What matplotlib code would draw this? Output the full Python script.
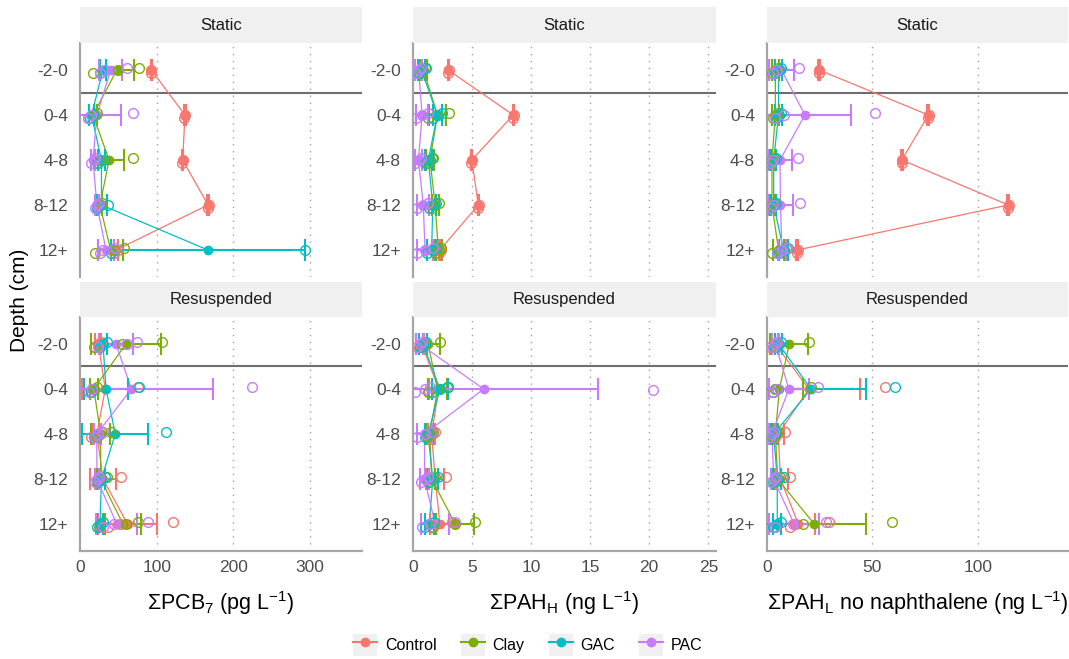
import matplotlib
matplotlib.use("Agg")
import matplotlib.pyplot as plt
import numpy as np
from matplotlib.lines import Line2D
from matplotlib.patches import Rectangle
from matplotlib.legend_handler import HandlerLine2D

plt.rcParams["font.family"] = ["Liberation Sans", "DejaVu Sans"]
plt.rcParams["mathtext.fontset"] = "custom"
plt.rcParams["mathtext.rm"] = "Liberation Sans"
plt.rcParams["mathtext.it"] = "Liberation Sans:italic"
plt.rcParams["mathtext.default"] = "regular"

# ---------------------------------------------------------------- data
depths = ["-2-0", "0-4", "4-8", "8-12", "12+"]
treatments = ["Control", "Clay", "GAC", "PAC"]
conditions = ["Static", "Resuspended"]
colors = {"Control": "#F8766D", "Clay": "#7CAE00", "GAC": "#00BFC4", "PAC": "#C77CFF"}

# Sum of PCB7 (pg/L)
pcb_static_mean = {"Control": [93, 137, 134, 167, 47], "Clay": [48, 17, 38, 26, 40],
                   "GAC": [30, 15, 28, 28, 167], "PAC": [40, 22, 17, 22, 34]}
pcb_static_sd = {"Control": [1, 1, 1, 1, 2], "Clay": [22, 5, 19, 3, 16],
                 "GAC": [4, 3, 4, 7, 126], "PAC": [15, 31, 3, 3, 10]}
pcb_static_reps = {"Control": [[92, 93], [136, 137], [133, 134], [167, 168], [45, 49]],
                   "Clay": [[17, 50, 77], [10, 18, 22], [22, 26, 69], [22, 27, 29], [20, 45, 57]],
                   "GAC": [[26, 33], [13, 17], [24, 31], [22, 37], [40, 293]],
                   "PAC": [[26, 33, 61], [10, 14, 69], [14, 18, 20], [19, 22, 25], [26, 30, 46]]}
pcb_resusp_mean = {"Control": [24, 33, 22, 30, 62], "Clay": [60, 18, 27, 27, 56],
                   "GAC": [30, 34, 46, 28, 26], "PAC": [47, 67, 22, 22, 48]}
pcb_resusp_sd = {"Control": [4, 30, 6, 17, 38], "Clay": [46, 5, 12, 6, 24],
                 "GAC": [5, 29, 43, 5, 4], "PAC": [22, 106, 4, 3, 27]}
pcb_resusp_reps = {"Control": [[20, 24, 28], [14, 16, 76], [14, 22, 28], [22, 25, 54], [37, 52, 121]],
                   "Clay": [[18, 55, 107], [14, 18, 22], [22, 26, 40], [22, 27, 35], [25, 60, 76]],
                   "GAC": [[26, 30, 35], [14, 16, 77], [18, 24, 112], [24, 28, 33], [22, 26, 30]],
                   "PAC": [[24, 61, 74], [12, 16, 225], [20, 24, 30], [19, 22, 25], [30, 45, 89]]}

# Sum of heavy PAHs (ng/L)
pahh_static_mean = {"Control": [3.0, 8.5, 5.0, 5.55, 2.3], "Clay": [0.9, 2.1, 1.46, 1.9, 2.17],
                    "GAC": [0.75, 2.08, 1.32, 1.7, 1.6], "PAC": [0.5, 0.8, 0.48, 0.9, 1.04]}
pahh_static_sd = {"Control": [0.05, 0.05, 0.05, 0.05, 0.1], "Clay": [0.3, 0.7, 0.3, 0.3, 0.3],
                  "GAC": [0.3, 0.4, 0.3, 0.3, 0.4], "PAC": [0.3, 0.5, 0.3, 0.5, 0.7]}
pahh_static_reps = {"Control": [[3.0, 3.05], [8.5, 8.6], [4.95, 5.0], [5.55, 5.6], [2.2, 2.4]],
                    "Clay": [[0.7, 0.9, 1.1], [1.3, 2.0, 3.1], [1.2, 1.5, 1.7], [1.6, 1.9, 2.2], [1.9, 2.2, 2.4]],
                    "GAC": [[0.5, 0.8, 1.0], [1.7, 2.1, 2.5], [1.0, 1.3, 1.6], [1.4, 1.7, 2.0], [1.2, 1.6, 2.0]],
                    "PAC": [[0.3, 0.5, 0.7], [0.3, 0.8, 1.3], [0.2, 0.5, 0.7], [0.4, 0.9, 1.3], [0.4, 1.0, 1.7]]}
pahh_resusp_mean = {"Control": [0.76, 2.2, 1.6, 1.9, 2.3], "Clay": [1.3, 2.1, 1.44, 1.6, 3.6],
                    "GAC": [0.87, 2.3, 1.3, 1.7, 1.4], "PAC": [0.59, 6.0, 1.0, 1.0, 1.9]}
pahh_resusp_sd = {"Control": [0.2, 0.8, 0.3, 0.75, 0.8], "Clay": [1.0, 0.8, 0.3, 0.3, 1.6],
                  "GAC": [0.3, 0.7, 0.3, 0.4, 0.4], "PAC": [0.3, 9.7, 0.6, 0.4, 1.2]}
pahh_resusp_reps = {"Control": [[0.5, 0.8, 1.0], [1.4, 2.2, 3.0], [1.3, 1.6, 1.9], [1.3, 1.6, 2.85], [1.6, 2.0, 3.3]],
                    "Clay": [[0.7, 1.0, 2.35], [1.3, 2.1, 2.9], [1.2, 1.5, 1.7], [1.4, 1.6, 1.9], [1.7, 3.6, 5.3]],
                    "GAC": [[0.6, 0.9, 1.1], [1.6, 2.3, 3.0], [1.0, 1.3, 1.6], [1.3, 1.7, 2.1], [1.0, 1.4, 1.8]],
                    "PAC": [[0.4, 0.6, 0.8], [0.2, 1.0, 1.5, 20.3], [0.4, 1.0, 1.6], [0.7, 1.0, 1.3], [0.8, 1.5, 3.6]]}

# Sum of light PAHs without naphthalene (ng/L)
pahl_static_mean = {"Control": [24.8, 76.6, 64.0, 114.4, 14.5], "Clay": [4.1, 4.1, 2.5, 2.5, 5.6],
                    "GAC": [5.6, 5.6, 3.3, 3.3, 8.0], "PAC": [7.0, 18.1, 6.3, 6.5, 7.2]}
pahl_static_sd = {"Control": [0.5, 0.5, 0.5, 0.5, 0.5], "Clay": [1.5, 1.5, 1.2, 1.2, 2.5],
                  "GAC": [1.5, 1.5, 1.2, 1.2, 2.0], "PAC": [5.7, 22.0, 5.5, 6.1, 2.0]}
pahl_static_reps = {"Control": [[24.8, 25.0], [76.6, 77.0], [64.0, 64.3], [114.4, 114.6], [14.5, 14.8]],
                    "Clay": [[2.5, 4.1, 5.5], [3.0, 4.1, 5.3], [1.5, 2.5, 3.6], [1.5, 2.5, 3.6], [2.5, 5.6, 9.0]],
                    "GAC": [[4.0, 5.6, 7.0], [4.2, 5.6, 7.0], [2.2, 3.3, 4.5], [2.2, 3.3, 4.5], [6.0, 8.0, 10.0]],
                    "PAC": [[3.0, 5.0, 15.1], [4.0, 8.0, 51.1], [2.0, 3.0, 14.9], [2.0, 3.0, 15.7], [5.0, 7.2, 9.5]]}
pahl_resusp_mean = {"Control": [4.0, 20.0, 5.5, 6.5, 15.0], "Clay": [10.7, 6.0, 4.1, 5.2, 22.5],
                    "GAC": [5.6, 21.0, 3.3, 5.0, 5.0], "PAC": [4.1, 10.5, 2.5, 3.3, 13.0]}
pahl_resusp_sd = {"Control": [1.5, 24.0, 2.5, 3.5, 8.0], "Clay": [9.0, 11.0, 1.2, 1.5, 24.4],
                  "GAC": [1.5, 26.0, 1.2, 2.0, 2.0], "PAC": [1.5, 9.5, 1.2, 1.2, 12.0]}
pahl_resusp_reps = {"Control": [[1.6, 4.0, 5.0], [3.0, 4.0, 55.9], [4.0, 5.0, 8.8], [4.0, 5.0, 11.2], [11.0, 13.5, 29.5]],
                    "Clay": [[3.0, 5.0, 20.0], [3.0, 4.0, 21.0], [3.0, 4.1, 5.2], [4.0, 5.2, 6.5], [4.0, 17.0, 59.5]],
                    "GAC": [[4.0, 5.6, 7.0], [3.0, 5.0, 60.9], [2.2, 3.3, 4.5], [3.0, 5.0, 8.0], [3.0, 5.0, 7.0]],
                    "PAC": [[3.0, 4.1, 5.0], [3.0, 5.0, 24.4], [1.5, 2.5, 3.5], [2.2, 3.3, 4.5], [4.0, 12.5, 28.0]]}

x_titles = [r"ΣPCB$_7$ (pg L$^{-1}$)", r"ΣPAH$_H$ (ng L$^{-1}$)",
            r"ΣPAH$_L$ no naphthalene (ng L$^{-1}$)"]
x_ticks = [[0, 100, 200, 300], [0, 5, 10, 15, 20, 25], [0, 50, 100]]
x_limits = [(0, 368), (0, 25.65), (0, 142.7)]

panels = [
    [(pcb_static_mean, pcb_static_sd, pcb_static_reps),
     (pahh_static_mean, pahh_static_sd, pahh_static_reps),
     (pahl_static_mean, pahl_static_sd, pahl_static_reps)],
    [(pcb_resusp_mean, pcb_resusp_sd, pcb_resusp_reps),
     (pahh_resusp_mean, pahh_resusp_sd, pahh_resusp_reps),
     (pahl_resusp_mean, pahl_resusp_sd, pahl_resusp_reps)],
]

# ---------------------------------------------------------------- layout
W, H = 1069, 659
fig = plt.figure(figsize=(W / 100, H / 100), dpi=100)

col_px = [(80, 362), (412.7, 716), (766.7, 1068)]
row_px = [(43, 277), (317, 551)]
strip_px = [(7, 43), (282, 317)]

axis_grey = "#A6A6A6"
text_grey = "#4D4D4D"
rep_offsets = [0.07, 0.0, -0.05, 0.03]
ypos = np.arange(1, len(depths) + 1)


def frac_rect(x0, x1, y0, y1):
    return [x0 / W, 1 - y1 / H, (x1 - x0) / W, (y1 - y0) / H]


for r, cond in enumerate(conditions):
    for c in range(3):
        means, sds, reps = panels[r][c]
        ax = fig.add_axes(frac_rect(col_px[c][0], col_px[c][1], row_px[r][0], row_px[r][1]))
        ax.set_xlim(*x_limits[c])
        ax.set_ylim(5.6, 0.4)
        ax.set_facecolor("white")
        for s in ["top", "right"]:
            ax.spines[s].set_visible(False)
        for s in ["left", "bottom"]:
            ax.spines[s].set_color(axis_grey)
            ax.spines[s].set_linewidth(1.6)
        if r == 0:
            ax.spines["bottom"].set_visible(False)
        ax.set_yticks(ypos)
        ax.set_yticklabels(depths)
        ax.set_xticks(x_ticks[c])
        ax.tick_params(axis="y", length=0, labelsize=12.5, colors=text_grey, pad=8.5)
        ax.tick_params(axis="x", length=0, labelsize=12.5, colors=text_grey, pad=6.5)
        if r == 0:
            ax.set_xticklabels([])
        for xt in x_ticks[c][1:]:
            ax.axvline(xt, color="#A0A0A0", lw=1.0, ls=(0, (1, 4)), zorder=0)
        ax.axhline(1.5, color="#6E6E6E", lw=1.5, zorder=1)

        for t in treatments:
            col = colors[t]
            m = np.array(means[t], dtype=float)
            sd = np.array(sds[t], dtype=float)
            ax.plot(m, ypos, color=col, lw=0.9, zorder=2)
            ax.hlines(ypos, m - sd, m + sd, color=col, lw=1.5, zorder=3)
            ax.vlines(np.concatenate([m - sd, m + sd]),
                      np.concatenate([ypos - 0.25, ypos - 0.25]),
                      np.concatenate([ypos + 0.25, ypos + 0.25]),
                      color=col, lw=1.5, zorder=3)
            ax.plot(m, ypos, "o", color=col, ms=6, zorder=4)
            for i, vals in enumerate(reps[t]):
                for k, v in enumerate(vals):
                    ax.plot(v, ypos[i] + rep_offsets[k % len(rep_offsets)], "o", mfc="none",
                            mec=col, mew=1.0, ms=7, zorder=5)

        # facet strip
        sax = fig.add_axes(frac_rect(col_px[c][0], col_px[c][1], strip_px[r][0], strip_px[r][1]))
        sax.set_facecolor("#F0F0F0")
        sax.set_xticks([])
        sax.set_yticks([])
        for s in sax.spines.values():
            s.set_visible(False)
        sax.text(0.5, 0.5, cond, ha="center", va="center", fontsize=12, color="#1A1A1A",
                 transform=sax.transAxes)

        if r == 1:
            cx = (col_px[c][0] + col_px[c][1]) / 2
            fig.text(cx / W, 1 - 603 / H, x_titles[c], ha="center", va="center", fontsize=15.5)

fig.text(20 / W, 1 - 300 / H, "Depth (cm)", rotation=90, ha="center", va="center", fontsize=15)


class KeyHandler(HandlerLine2D):
    def create_artists(self, legend, orig_handle, xdescent, ydescent, width, height, fontsize, trans):
        bg = Rectangle((-xdescent, -ydescent), width, height, facecolor="#F0F0F0",
                       edgecolor="none", transform=trans)
        arts = super().create_artists(legend, orig_handle, xdescent, ydescent, width, height,
                                      fontsize, trans)
        return [bg] + list(arts)


handles = [Line2D([], [], color=colors[t], lw=1.5, marker="o", ms=6) for t in treatments]
fig.legend(handles, treatments, loc="center", bbox_to_anchor=(528 / W, 1 - 645 / H), ncol=4,
           frameon=False, fontsize=11.5, handlelength=1.5, handleheight=1.7, handletextpad=0.5,
           columnspacing=1.5, numpoints=1, handler_map={Line2D: KeyHandler()})

fig.savefig("out.png", dpi=100)
